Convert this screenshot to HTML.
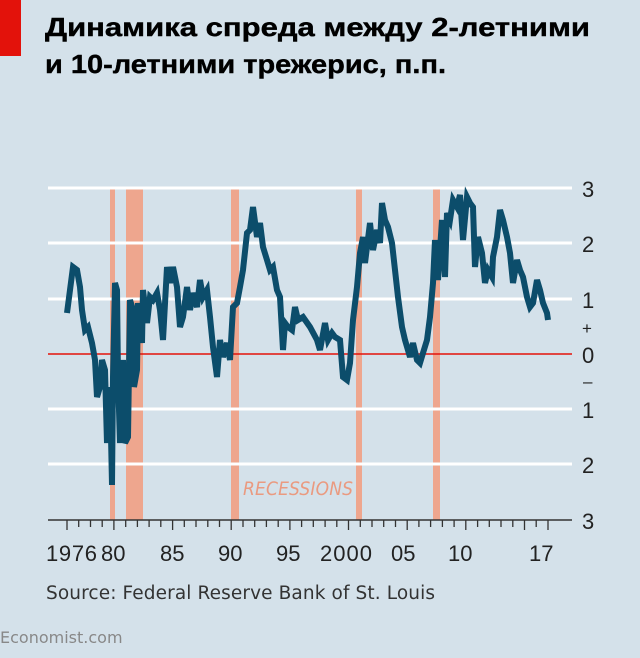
<!DOCTYPE html>
<html><head><meta charset="utf-8"><style>
html,body{margin:0;padding:0;}
body{width:640px;height:658px;background:#d4e1ea;position:relative;overflow:hidden;font-family:"Liberation Sans","DejaVu Sans",sans-serif;}
</style></head><body>
<svg width="640" height="658" viewBox="0 0 640 658" xmlns="http://www.w3.org/2000/svg" style="position:absolute;left:0;top:0">
<rect x="0" y="0" width="21" height="56" fill="#e3120b"/>
<text x="45" y="36" font-family="Liberation Sans, DejaVu Sans, sans-serif" font-weight="bold" font-size="26" fill="#000" stroke="#000" stroke-width="0.4" textLength="545" lengthAdjust="spacingAndGlyphs">Динамика спреда между 2-летними</text>
<text x="45" y="73" font-family="Liberation Sans, DejaVu Sans, sans-serif" font-weight="bold" font-size="26" fill="#000" stroke="#000" stroke-width="0.4" textLength="401" lengthAdjust="spacingAndGlyphs">и 10-летними трежерис, п.п.</text>
<g fill="#eea68e">
<rect x="110" y="188" width="5" height="332"/>
<rect x="126" y="188" width="17" height="332"/>
<rect x="231" y="188" width="8" height="332"/>
<rect x="356" y="188" width="6" height="332"/>
<rect x="433" y="188" width="7" height="332"/>
</g>
<g stroke="#fff" stroke-width="3">
<line x1="48" y1="188" x2="572" y2="188"/>
<line x1="48" y1="243" x2="572" y2="243"/>
<line x1="48" y1="299" x2="572" y2="299"/>
<line x1="48" y1="409" x2="572" y2="409"/>
<line x1="48" y1="464" x2="572" y2="464"/>
</g>
<line x1="48" y1="354" x2="572" y2="354" stroke="#e3120b" stroke-width="1.5"/>
<line x1="48" y1="520" x2="572" y2="520" stroke="#333" stroke-width="1.5"/>
<text x="243" y="495" font-family="DejaVu Sans Condensed, Liberation Sans Narrow, sans-serif" font-style="italic" font-size="19" fill="#ea9a80" textLength="110">RECESSIONS</text>
<polyline fill="none" stroke="#0c4d6b" stroke-width="6" stroke-linejoin="miter" points="67,313 70,290 73,267 77,270 80,287 82,310 85,330 88,327 92,343 95,360 97,397 100,387 102,360 105,370 107,443 110,387 112,485 113,377 115,283 117,290 118,377 120,443 123,360 125,443 128,437 130,300 133,310 134,387 137,370 138,303 142,343 143,290 147,323 150,297 153,300 157,293 160,310 163,340 167,267 170,283 173,267 177,287 180,327 183,317 187,287 190,310 193,293 197,307 200,280 203,297 207,290 210,317 213,347 217,377 220,340 223,357 227,343 230,360 233,307 237,303 240,287 243,270 247,233 250,230 253,207 257,237 260,223 263,247 267,260 270,270 273,267 277,290 280,297 283,350 285,323 288,327 292,330 295,307 298,320 303,317 310,327 317,340 320,350 325,323 328,340 332,333 335,337 340,340 343,377 347,380 350,363 353,320 357,287 360,253 363,237 365,263 370,223 373,250 377,230 380,243 382,203 385,220 388,227 392,243 395,270 398,297 402,327 405,340 410,357 413,343 417,360 420,363 423,353 427,340 430,317 433,283 435,240 438,280 442,220 445,277 447,213 450,220 453,200 457,207 460,195 463,240 467,197 470,203 473,207 475,267 478,237 482,253 485,283 488,270 492,277 493,257 497,237 500,210 503,220 507,237 510,253 513,283 517,260 520,270 523,277 527,297 530,307 533,303 537,280 540,290 543,303 547,313 548,320"/>
<g font-family="Liberation Sans, DejaVu Sans, sans-serif" font-size="22" fill="#222">
<text x="582" y="197">3</text>
<text x="582" y="252">2</text>
<text x="582" y="308">1</text>
<text x="582" y="334" font-size="17">+</text>
<text x="582" y="363">0</text>
<text x="583" y="387" font-size="17">–</text>
<text x="582" y="418">1</text>
<text x="582" y="473">2</text>
<text x="582" y="529">3</text>
<text x="46" y="561" textLength="51">1976</text>
<text x="101" y="561">80</text>
<text x="160" y="561">85</text>
<text x="218" y="561">90</text>
<text x="276" y="561">95</text>
<text x="320" y="561" textLength="52">2000</text>
<text x="391" y="561">05</text>
<text x="448" y="561">10</text>
<text x="529" y="561">17</text>
</g>
<text x="46" y="599" font-family="DejaVu Sans, Liberation Sans, sans-serif" font-size="18.5" fill="#333" textLength="389">Source: Federal Reserve Bank of St. Louis</text>
<text x="0" y="643" font-family="DejaVu Sans, Liberation Sans, sans-serif" font-size="16" fill="#888">Economist.com</text>
<g stroke="#333" stroke-width="1.3">
<line x1="67" y1="520" x2="67" y2="530"/><line x1="78.7" y1="520" x2="78.7" y2="527"/><line x1="90.5" y1="520" x2="90.5" y2="527"/><line x1="102.2" y1="520" x2="102.2" y2="527"/><line x1="113.9" y1="520" x2="113.9" y2="530"/><line x1="125.7" y1="520" x2="125.7" y2="527"/><line x1="137.4" y1="520" x2="137.4" y2="527"/><line x1="149.1" y1="520" x2="149.1" y2="527"/><line x1="160.8" y1="520" x2="160.8" y2="527"/><line x1="172.6" y1="520" x2="172.6" y2="530"/><line x1="184.3" y1="520" x2="184.3" y2="527"/><line x1="196" y1="520" x2="196" y2="527"/><line x1="207.8" y1="520" x2="207.8" y2="527"/><line x1="219.5" y1="520" x2="219.5" y2="527"/><line x1="231.2" y1="520" x2="231.2" y2="530"/><line x1="243" y1="520" x2="243" y2="527"/><line x1="254.7" y1="520" x2="254.7" y2="527"/><line x1="266.4" y1="520" x2="266.4" y2="527"/><line x1="278.2" y1="520" x2="278.2" y2="527"/><line x1="289.9" y1="520" x2="289.9" y2="530"/><line x1="301.6" y1="520" x2="301.6" y2="527"/><line x1="313.3" y1="520" x2="313.3" y2="527"/><line x1="325.1" y1="520" x2="325.1" y2="527"/><line x1="336.8" y1="520" x2="336.8" y2="527"/><line x1="348.5" y1="520" x2="348.5" y2="530"/><line x1="360.3" y1="520" x2="360.3" y2="527"/><line x1="372" y1="520" x2="372" y2="527"/><line x1="383.7" y1="520" x2="383.7" y2="527"/><line x1="395.5" y1="520" x2="395.5" y2="527"/><line x1="407.2" y1="520" x2="407.2" y2="530"/><line x1="418.9" y1="520" x2="418.9" y2="527"/><line x1="430.6" y1="520" x2="430.6" y2="527"/><line x1="442.4" y1="520" x2="442.4" y2="527"/><line x1="454.1" y1="520" x2="454.1" y2="527"/><line x1="465.8" y1="520" x2="465.8" y2="530"/><line x1="477.6" y1="520" x2="477.6" y2="527"/><line x1="489.3" y1="520" x2="489.3" y2="527"/><line x1="501" y1="520" x2="501" y2="527"/><line x1="512.8" y1="520" x2="512.8" y2="527"/><line x1="524.5" y1="520" x2="524.5" y2="530"/><line x1="536.2" y1="520" x2="536.2" y2="527"/><line x1="548" y1="520" x2="548" y2="530"/>
</g>
</svg>
</body></html>
